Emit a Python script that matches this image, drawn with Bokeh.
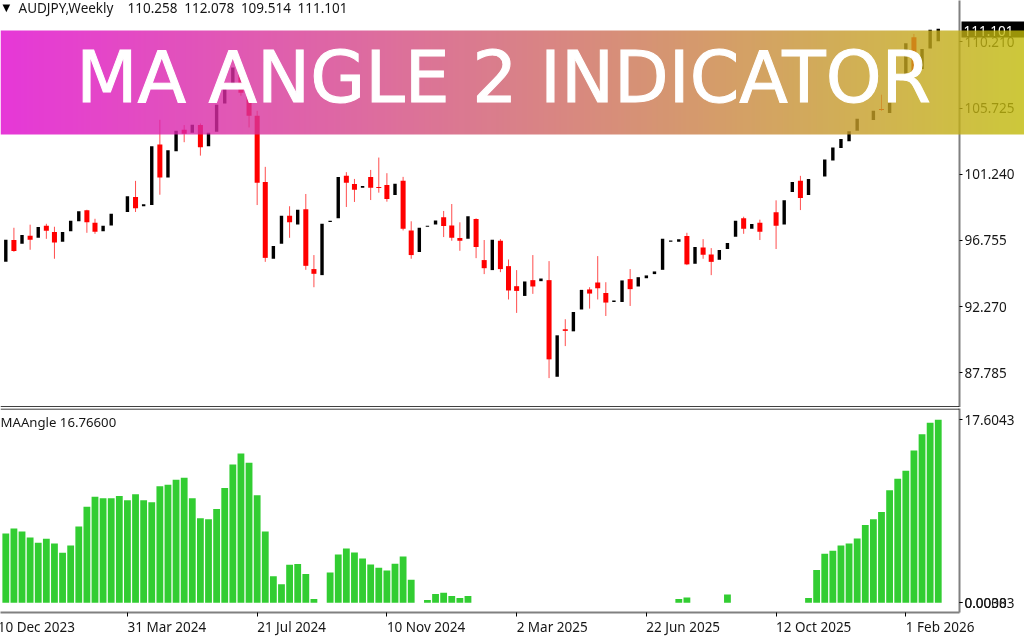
import numpy as np
from bokeh.plotting import figure
from bokeh.layouts import column
from bokeh.models import (ColumnDataSource, FixedTicker, Label, Range1d, Span)
from bokeh.core.properties import value
from bokeh.embed import file_html
from bokeh.resources import INLINE

nan = float("nan")

opens = [95.30,96.78,96.52,97.07,96.93,97.75,97.32,96.66,97.37,98.05,98.79,97.95,97.37,97.77,nan,98.68,
 99.70,99.07,99.15,103.25,101.02,102.80,104.25,104.05,104.57,103.14,104.12,106.04,107.36,108.12,106.76,105.20,
 100.72,95.51,96.52,98.43,97.84,98.86,94.81,94.40,98.00,98.25,101.13,100.58,100.33,101.06,100.38,100.51,
 99.83,100.79,97.43,95.96,97.68,97.84,98.32,97.77,96.91,96.86,98.20,95.42,94.74,96.73,95.01,93.65,
 92.99,94.06,93.99,94.06,87.51,90.73,90.59,92.07,93.43,93.90,93.19,92.58,92.58,94.13,93.63,94.19,
 94.47,94.76,96.67,96.66,97.05,95.17,96.28,95.80,95.44,96.17,97.00,98.25,97.54,97.95,nan,98.66,
 97.84,100.04,100.79,99.83,nan,101.08,102.17,103.01,103.48,104.18,nan,104.91,105.66,105.39,107.58,107.85,
 110.52,108.38,109.77,110.26]
closes = [96.80,96.03,97.12,96.80,97.66,97.41,96.62,97.32,98.09,98.73,97.98,97.34,97.75,98.56,nan,99.75,
 98.93,99.20,103.14,101.02,102.87,104.18,103.98,104.59,103.07,104.05,105.95,107.36,108.48,106.76,105.20,100.67,
 95.57,96.37,98.43,97.98,98.83,95.03,94.49,97.88,98.09,101.06,100.67,100.19,100.45,100.33,100.31,99.56,
 100.60,97.54,95.76,97.61,97.75,98.11,97.73,96.93,96.73,98.39,96.30,94.87,96.80,94.81,93.36,93.33,
 93.97,93.63,94.17,88.69,90.32,90.62,91.90,93.40,93.15,93.51,92.54,92.68,94.04,93.45,94.26,94.38,
 94.65,96.86,96.74,96.84,95.13,96.30,95.78,95.30,96.10,96.57,98.09,97.54,97.86,97.34,nan,97.75,
 99.47,100.72,99.63,100.92,nan,102.23,103.05,103.62,104.16,105.00,nan,105.54,105.59,106.11,107.65,110.11,
 107.92,109.73,111.03,111.10]
highs = [96.80,97.61,97.12,97.82,97.66,97.88,97.68,97.32,98.09,98.73,98.83,98.22,97.75,98.56,nan,99.75,
 100.79,99.20,103.14,104.93,102.87,104.18,104.57,104.59,104.68,104.05,105.95,107.36,108.48,108.53,106.90,105.54,
 101.74,96.37,98.43,99.07,98.83,99.90,95.76,97.88,98.09,101.06,101.38,100.92,100.45,101.53,102.37,101.31,
 100.60,101.06,98.05,97.61,97.75,98.11,98.75,99.22,97.98,98.39,98.25,96.78,96.80,96.84,95.46,94.74,
 93.97,95.76,94.17,95.35,90.32,91.41,91.90,93.40,93.58,95.69,93.92,92.68,94.04,94.81,94.26,94.38,
 94.65,96.86,96.74,96.84,97.27,96.30,96.84,96.23,96.10,96.57,98.09,98.36,97.86,98.16,nan,99.47,
 99.47,100.72,101.13,100.92,nan,102.23,103.05,103.62,104.16,105.00,nan,105.54,106.63,106.11,107.65,110.11,
 110.75,109.73,111.03,111.10]
lows = [95.30,95.98,96.52,96.12,96.93,96.86,95.51,96.66,97.37,98.05,97.27,97.20,97.37,97.77,nan,98.68,
 98.68,99.07,99.15,99.85,101.02,102.80,103.41,104.05,102.50,103.14,104.12,106.04,107.36,106.56,104.41,99.15,
 95.30,95.51,96.52,96.93,97.84,94.76,93.58,94.40,98.00,98.25,99.02,99.36,100.33,99.49,99.99,99.38,
 99.83,97.43,95.51,95.96,97.68,97.84,96.98,96.73,96.05,96.86,95.55,94.47,94.74,94.60,92.75,91.84,
 92.99,93.13,93.99,87.42,87.51,89.59,90.59,92.07,92.13,92.75,91.63,92.58,92.58,92.31,93.63,94.19,
 94.47,94.76,96.67,96.66,95.08,95.17,95.51,94.40,95.44,96.17,97.00,97.20,97.54,96.78,nan,96.17,
 97.84,100.04,98.81,99.83,nan,101.08,102.17,103.01,103.48,104.18,nan,104.91,105.54,105.39,107.58,107.85,
 107.70,108.38,109.77,110.26]
ma_angle = [6.67,7.15,6.86,6.28,5.77,6.15,5.71,4.81,5.51,7.34,9.23,10.19,10.06,10.06,10.26,9.87,
 10.45,9.87,9.68,11.22,11.35,11.83,12.02,10.06,8.14,8.04,9.01,11.03,13.30,14.36,13.46,10.35,
 6.86,2.56,1.79,3.65,3.72,2.76,0.35,0,2.90,4.63,5.22,4.84,4.26,3.69,3.37,3.11,
 3.75,4.46,2.21,0,0.26,0.83,0.96,0.64,0.45,0.64,0,0,0,0,0,0,
 0,0,0,0,0,0,0,0,0,0,0,0,0,0,0,0,
 0,0,0,0.35,0.51,0,0,0,0,0.80,0,0,0,0,0,0,
 0,0,0,0.45,3.14,4.71,5.00,5.51,5.71,6.19,7.47,8.04,8.72,10.83,11.92,12.69,
 14.65,16.22,17.31,17.60]
bars = list(range(len(closes)))

price_ticks = [87.785, 92.27, 96.755, 101.24, 105.725, 110.21]
date_ticks = [-1, 15, 31, 47, 63, 79, 95, 111]
date_labels = ["10 Dec 2023", "31 Mar 2024", "21 Jul 2024", "10 Nov 2024", "2 Mar 2025", "22 Jun 2025", "12 Oct 2025", "1 Feb 2026"]
ind_ticks = [17.6043, 0.00383, 0.0]
ind_labels = {17.6043: "17.6043", 0.00383: "0.00383", 0.0: "0.0000"}
instrument = "AUDJPY,Weekly"
ohlc_text = ["110.258", "112.078", "109.514", "111.101"]
ohlc_x = [127, 183.7, 240.4, 297]
last_price = "111.101"
indicator_text = "MAAngle 16.76600"
banner_text = "MA ANGLE 2 INDICATOR"

FONT = "Noto Sans"
FS = "13.5px"
AXIS_GRAY = "#808080"
TEXT = "#161616"
X0, X1 = -0.654, 117.62
FRAME_W = 959
x_rng = Range1d(X0, X1)
Y1 = (85.427, 113.016)
Y2 = (-0.94, 18.69)

def base(fh, yr, top=0, bottom=0):
    f = figure(frame_width=FRAME_W, frame_height=fh, x_range=x_rng, y_range=yr, y_axis_location="right",
               output_backend="svg", toolbar_location=None, tools="",
               min_border_left=0, min_border_right=65, min_border_top=top, min_border_bottom=bottom,
               outline_line_color=None, background_fill_color="white", border_fill_color="white")
    f.grid.visible = False
    ax = f.yaxis[0]
    ax.axis_line_color = AXIS_GRAY
    ax.axis_line_width = 2
    ax.major_tick_line_color = "#000000"
    ax.major_tick_out = 3
    ax.major_tick_in = 0
    ax.minor_tick_line_color = None
    ax.major_label_standoff = 2
    ax.major_label_text_font = FONT
    ax.major_label_text_font_size = FS
    ax.major_label_text_color = TEXT
    return f

# --- price pane
up = [c >= o for o, c in zip(opens, closes)]
isred = [c < o for o, c in zip(opens, closes)]
black = ColumnDataSource(dict(x=[b for b, u in zip(bars, up) if u], o=[o for o, u in zip(opens, up) if u],
                              c=[c for c, u in zip(closes, up) if u]))
red = ColumnDataSource(dict(x=[b for b, u in zip(bars, isred) if u], o=[o for o, u in zip(opens, isred) if u],
                            c=[c for c, u in zip(closes, isred) if u], h=[v for v, u in zip(highs, isred) if u],
                            l=[v for v, u in zip(lows, isred) if u]))

p1 = base(407, Range1d(*Y1))
p1.xaxis.visible = False
p1.yaxis[0].ticker = FixedTicker(ticks=price_ticks)
p1.yaxis[0].major_label_overrides = {t: f"{t:.3f}" for t in price_ticks}
p1.segment("x", "h", "x", "l", source=red, line_color="#ff0000", line_width=1, line_alpha=0.7)
p1.vbar("x", 0.62, "o", "c", source=red, fill_color="#ff0000", line_color=None)
p1.vbar("x", 0.42, "o", "c", source=black, fill_color="#000000", line_color=None)
p1.add_layout(Span(location=Y1[0] + 0.05, dimension="width", line_color="#000000", line_width=1))

# --- indicator pane
p2 = base(204, Range1d(*Y2), top=1, bottom=28)
p2.yaxis[0].ticker = FixedTicker(ticks=ind_ticks)
p2.yaxis[0].major_label_overrides = ind_labels
xa = p2.xaxis[0]
xa.ticker = FixedTicker(ticks=date_ticks)
xa.major_label_overrides = {t: "" for t in date_ticks}
xa.axis_line_color = AXIS_GRAY
xa.axis_line_width = 2
xa.major_tick_line_color = "#000000"
xa.major_tick_out = 4
xa.major_tick_in = 0
xa.minor_tick_line_color = None
xa.major_label_standoff = 0
xa.major_label_text_font_size = "1px"
p2.vbar(x=bars, width=0.84, bottom=0, top=ma_angle, fill_color="#32cd32", line_color=None)
p2.add_layout(Span(location=Y2[1] - 0.05, dimension="width", line_color="#000000", line_width=1))
p2.add_layout(Label(x=0, y=191, x_units="screen", y_units="screen", text=indicator_text, text_font=FONT,
                    text_font_size="13.2px", text_color=TEXT, text_baseline="middle"))

# header texts
p1.add_layout(Label(x=2, y=400, x_units="screen", y_units="screen", text="\u25BC", text_font_size="10px",
                    text_font="DejaVu Sans", text_color="#000000", text_baseline="middle"))
p1.add_layout(Label(x=18, y=400, x_units="screen", y_units="screen", text=instrument, text_font=FONT,
                    text_font_size=FS, text_color=TEXT, text_baseline="middle"))
for sx, s in zip(ohlc_x, ohlc_text):
    p1.add_layout(Label(x=sx, y=400, x_units="screen", y_units="screen", text=s, text_font=FONT,
                        text_font_size=FS, text_color=TEXT, text_baseline="middle"))

# --- page overlay in window pixels: date labels starting at their ticks, price tag, gradient banner, banner title
ov = figure(width=1024, height=640, x_range=Range1d(0, 1024), y_range=Range1d(640, 0),
            output_backend="svg", toolbar_location=None, tools="",
            min_border_left=0, min_border_right=0, min_border_top=0, min_border_bottom=0,
            outline_line_color=None, background_fill_alpha=0, border_fill_alpha=0,
            x_axis_location=None, y_axis_location=None)
ov.grid.visible = False
date_sx = [(t - X0) / (X1 - X0) * FRAME_W for t in date_ticks]
ov.text(x=date_sx, y=[626] * len(date_sx), text=date_labels, text_font=value(FONT), text_font_size=value(FS),
        text_color=TEXT, text_baseline="middle")
ov.quad(left=[961], right=[1024], top=[21], bottom=[37], fill_color="#000000", line_color=None)
ov.text(x=[963], y=[30], text=[last_price], text_font=value(FONT), text_font_size=value(FS),
        text_color="#ffffff", text_baseline="middle")
left_rgb = np.array([224, 6, 206], dtype=float)
right_rgb = np.array([192, 186, 9], dtype=float)
grad = np.zeros((4, 1024), dtype=np.uint32)
view = grad.view(dtype=np.uint8).reshape((4, 1024, 4))
for i in range(1024):
    t = i / 1023
    view[:, i, :3] = np.round(left_rgb + (right_rgb - left_rgb) * t)
    view[:, i, 3] = 204
ov.image_rgba(image=[grad], x=0, y=30, dw=1024, dh=104)
ov.text(x=[503], y=[77], text=[banner_text], text_font=value("DejaVu Sans"), text_font_size=value("71px"),
        text_color="#ffffff", text_align="center", text_baseline="middle",
        text_outline_color="#ffffff")

main = column(p1, p2, spacing=0, styles={"position": "fixed", "left": "0px", "top": "0px"})
ov.styles = {"position": "fixed", "left": "0px", "top": "0px", "z-index": "10"}
layout = column(main, ov, spacing=0)
open("out.html", "w").write(file_html(layout, INLINE))
